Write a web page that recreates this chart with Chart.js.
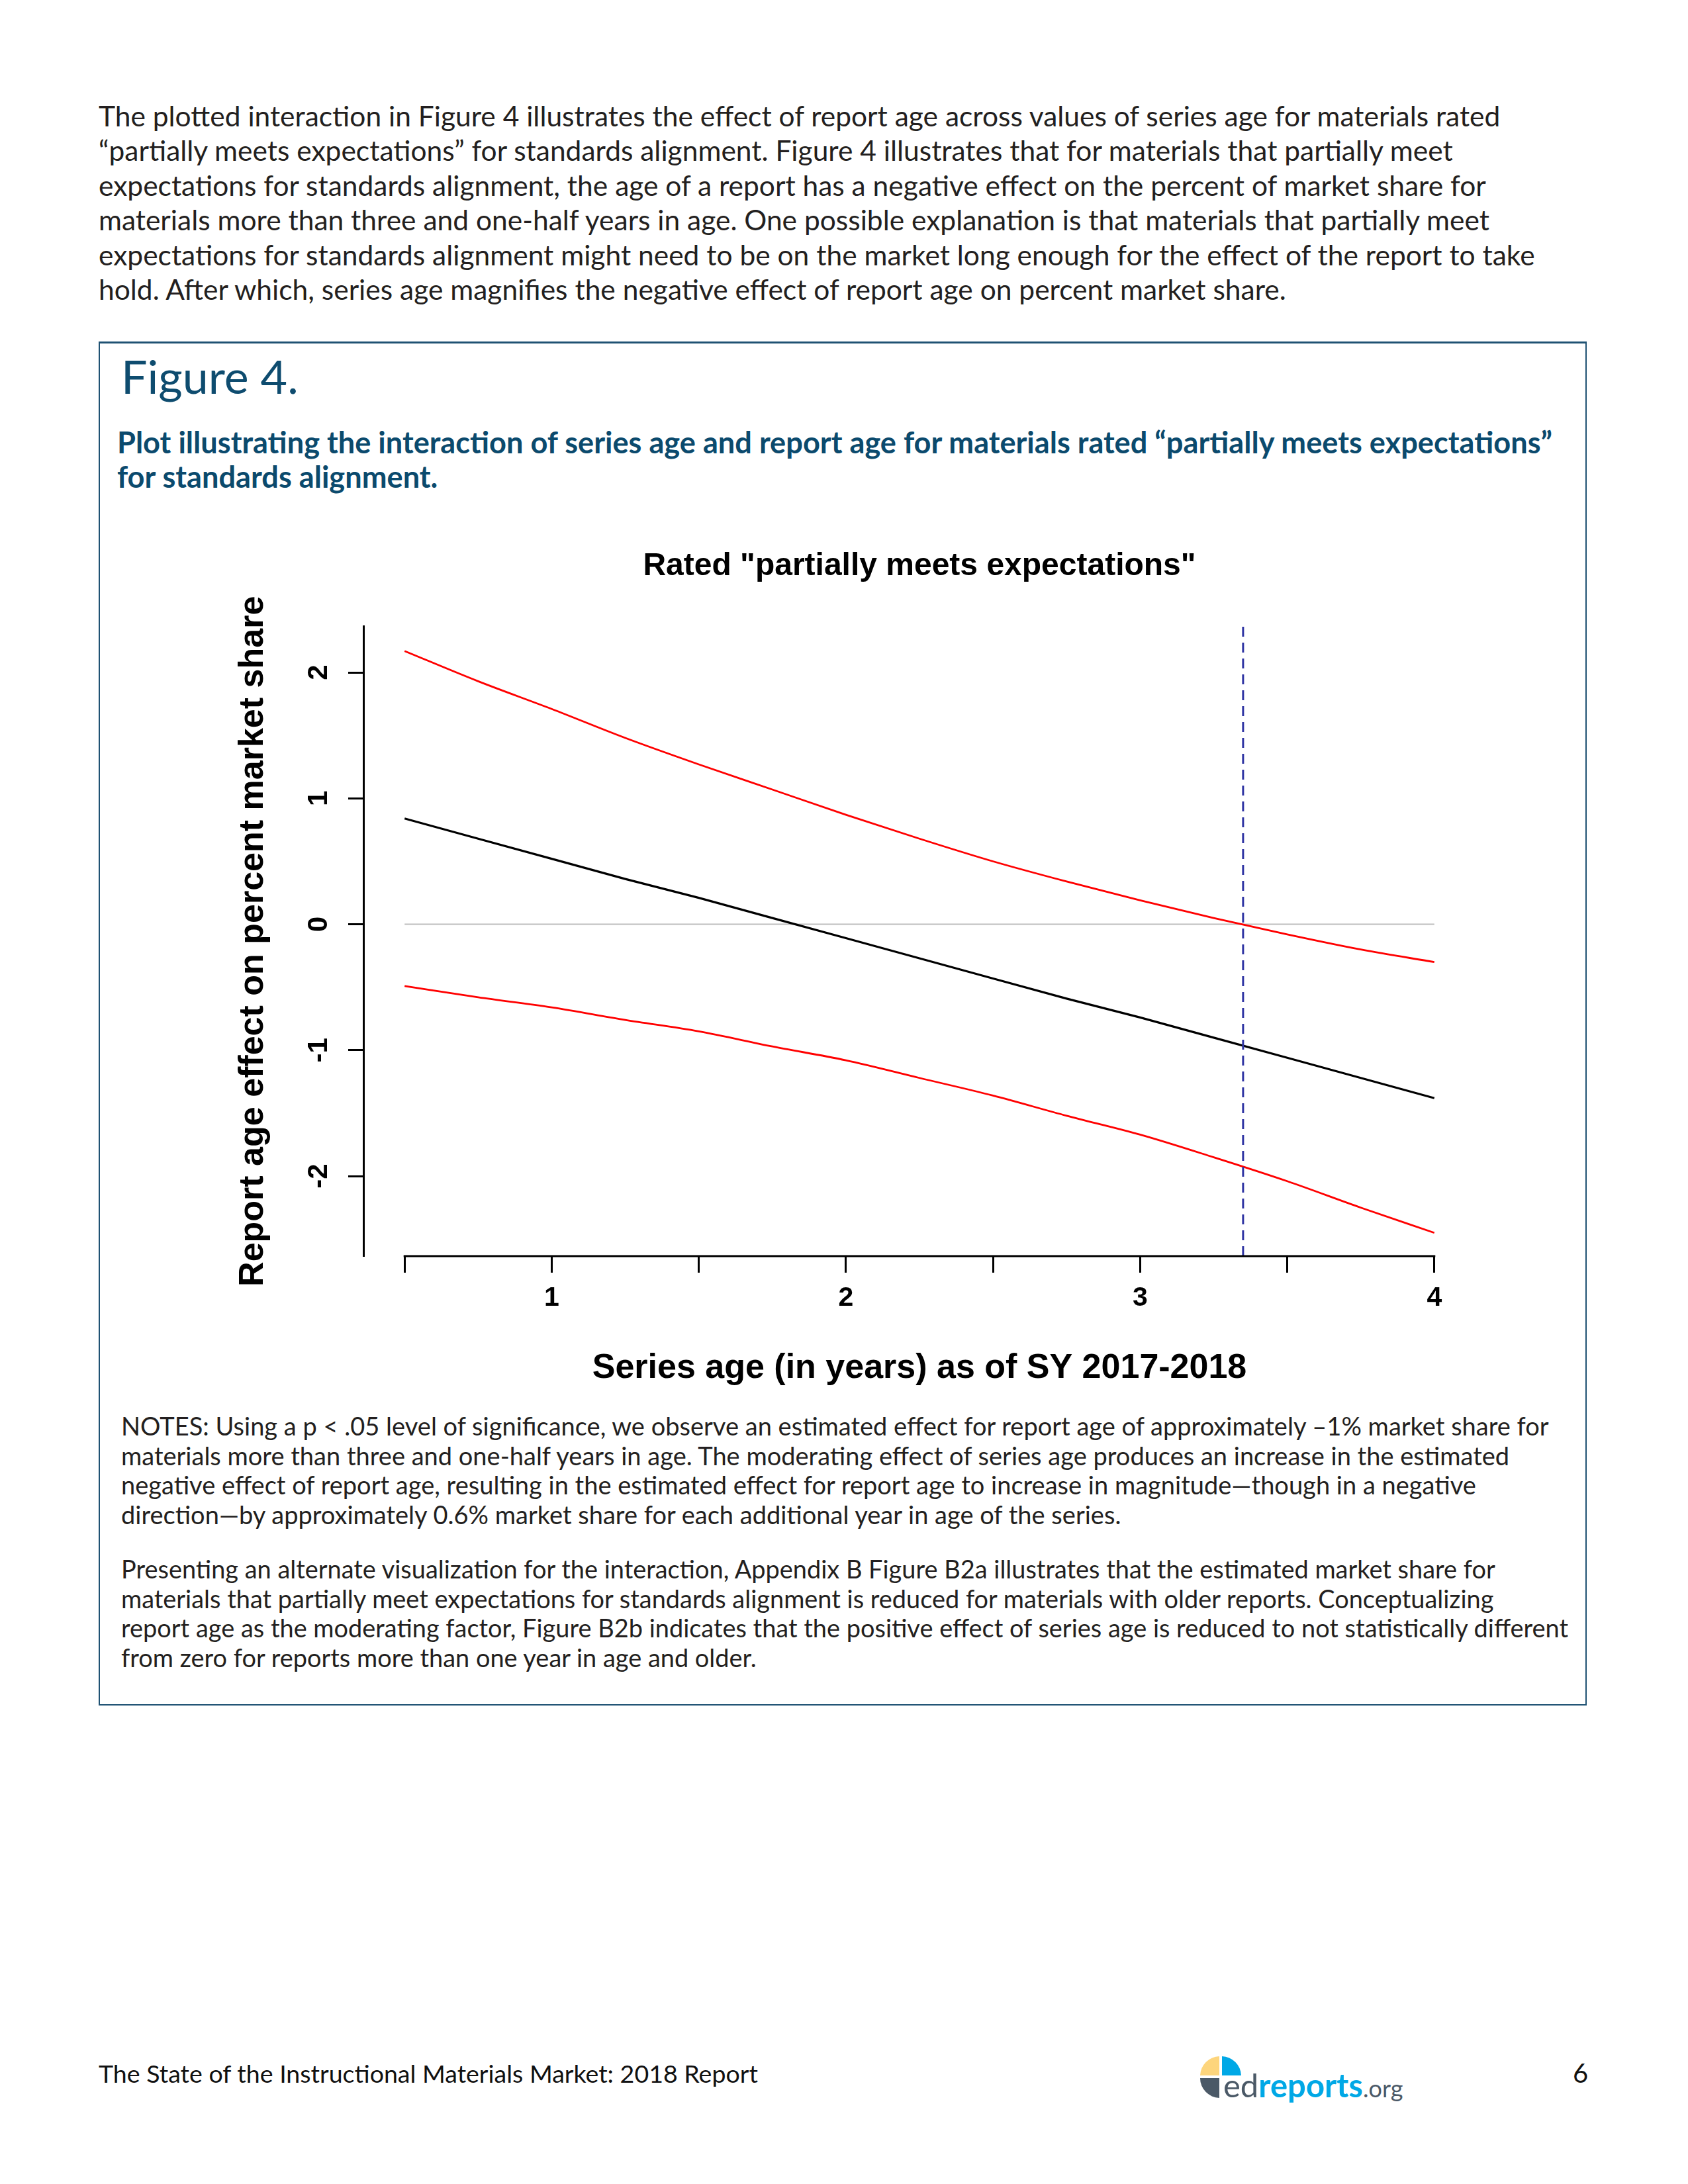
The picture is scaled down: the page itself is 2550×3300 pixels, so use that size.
<!DOCTYPE html>
<html>
<head>
<meta charset="utf-8">
<title>Figure 4</title>
<script src="https://cdn.jsdelivr.net/npm/chart.js@4.4.0/dist/chart.umd.min.js"></script>
<style>
  html, body { margin: 0; padding: 0; background: #fff; }
  body { width: 2550px; height: 3300px; position: relative; overflow: hidden;
         font-family: Lato, "Open Sans", sans-serif; color: #231f20; }
  .block { position: absolute; white-space: nowrap; }
  .block .ln { width: max-content; }
  #intro { left: 149px; top: 149px; font-size: 38px; line-height: 52.4px; }
  #box { position: absolute; left: 149px; top: 516px; width: 2244px; height: 2056px;
         border: 2px solid #1f5273; border-top-width: 3px; }
  #figTitle { left: 183px; top: 526px; font-size: 70px; line-height: 84px; color: #0e4c6f; font-weight: 400; }
  #subtitle { left: 177px; top: 642px; font-size: 40px; line-height: 52px; color: #0b4a6d; font-weight: 700; }
  #notes1 { left: 183px; top: 2132px; font-size: 36px; line-height: 44.7px; }
  #notes2 { left: 183px; top: 2349px; font-size: 36px; line-height: 44.5px; }
  #footer { left: 149px; top: 3110px; font-size: 38px; line-height: 46px; color: #111; }
  #pageNum { left: 2376px; top: 3108px; font-size: 40px; line-height: 48px; color: #111; }
  #chart { position: absolute; left: 300px; top: 760px; width: 2000px; height: 1360px; }
  #logo { position: absolute; left: 1800px; top: 3095px; }
</style>
</head>
<body>

<div id="intro" class="block">
  <div class="ln">The plotted interaction in Figure 4 illustrates the effect of report age across values of series age for materials rated</div>
  <div class="ln">“partially meets expectations” for standards alignment. Figure 4 illustrates that for materials that partially meet</div>
  <div class="ln">expectations for standards alignment, the age of a report has a negative effect on the percent of market share for</div>
  <div class="ln">materials more than three and one-half years in age. One possible explanation is that materials that partially meet</div>
  <div class="ln">expectations for standards alignment might need to be on the market long enough for the effect of the report to take</div>
  <div class="ln">hold. After which, series age magnifies the negative effect of report age on percent market share.</div>
</div>

<div id="box"></div>
<div id="figTitle" class="block"><div class="ln">Figure 4.</div></div>
<div id="subtitle" class="block">
  <div class="ln">Plot illustrating the interaction of series age and report age for materials rated “partially meets expectations”</div>
  <div class="ln">for standards alignment.</div>
</div>

<canvas id="chart" width="2000" height="1360"></canvas>

<div id="notes1" class="block">
  <div class="ln">NOTES: Using a p &lt; .05 level of significance, we observe an estimated effect for report age of approximately –1% market share for</div>
  <div class="ln">materials more than three and one-half years in age. The moderating effect of series age produces an increase in the estimated</div>
  <div class="ln">negative effect of report age, resulting in the estimated effect for report age to increase in magnitude—though in a negative</div>
  <div class="ln">direction—by approximately 0.6% market share for each additional year in age of the series.</div>
</div>
<div id="notes2" class="block">
  <div class="ln">Presenting an alternate visualization for the interaction, Appendix B Figure B2a illustrates that the estimated market share for</div>
  <div class="ln">materials that partially meet expectations for standards alignment is reduced for materials with older reports. Conceptualizing</div>
  <div class="ln">report age as the moderating factor, Figure B2b indicates that the positive effect of series age is reduced to not statistically different</div>
  <div class="ln">from zero for reports more than one year in age and older.</div>
</div>

<div id="footer" class="block"><div class="ln">The State of the Instructional Materials Market: 2018 Report</div></div>
<div id="pageNum" class="block"><div class="ln">6</div></div>

<svg id="logo" width="340" height="100" viewBox="0 0 340 100">
  <path d="M42 41 L42 12 A30 30 0 0 0 13 41 Z" fill="#fdd57c"/>
  <path d="M46 41 L46 12 A30 30 0 0 1 75 41 Z" fill="#00a8e6"/>
  <path d="M42 45 L42 75 A30 30 0 0 1 13 45 Z" fill="#4b5967"/>
  <text x="48" y="74" font-family="Lato, sans-serif" font-size="49" fill="#4b5967">ed<tspan fill="#00a8e6" font-weight="700">reports</tspan><tspan font-size="36">.org</tspan></text>
</svg>

<script>
// values
const seriesAge = [0.5, 0.75, 1, 1.25, 1.5, 1.75, 2, 2.25, 2.5, 2.75, 3, 3.25, 3.5, 3.75, 4];
const effectEstimate = [0.84, 0.68, 0.52, 0.36, 0.21, 0.05, -0.11, -0.27, -0.43, -0.59, -0.74, -0.90, -1.06, -1.22, -1.38];
const upperBound = [2.17, 1.93, 1.71, 1.48, 1.27, 1.07, 0.87, 0.68, 0.50, 0.34, 0.19, 0.05, -0.08, -0.20, -0.30];
const lowerBound = [-0.49, -0.58, -0.66, -0.76, -0.85, -0.97, -1.08, -1.22, -1.36, -1.52, -1.67, -1.85, -2.04, -2.25, -2.45];
const xTicks = [0.5, 1, 1.5, 2, 2.5, 3, 3.5, 4];
const xTickLabels = ["", "1", "", "2", "", "3", "", "4"];
const yTicks = [-2, -1, 0, 1, 2];
const yTickLabels = ["-2", "-1", "0", "1", "2"];
const zeroLine = 0;
const cutoffAge = 3.35;   // where the upper bound crosses zero

const xRange = [0.36, 4.14];
const yRange = [-2.635, 2.365];

// stretch each text block so its measured line matches the page
function fitBlock(id, lineIdx, target) {
  const el = document.getElementById(id);
  const ln = el.querySelectorAll(".ln")[lineIdx];
  const w = ln.getBoundingClientRect().width;
  const fs = parseFloat(getComputedStyle(el).fontSize);
  el.style.fontSize = (fs * target / w).toFixed(2) + "px";
}
fitBlock("intro", 0, 2118);
fitBlock("subtitle", 0, 2168);
fitBlock("notes1", 0, 2157);
fitBlock("notes2", 2, 2187);
fitBlock("footer", 0, 996);

const pts = arr => seriesAge.map((x, i) => ({ x: x, y: arr[i] }));
const FONT = "'Liberation Sans', Arial, sans-serif";

// R-style axis pieces: short x axis line and upright y labels
const rAxes = {
  id: "rAxes",
  afterDraw(chart) {
    const { ctx, chartArea, scales } = chart;
    const x = scales.x, y = scales.y;
    ctx.save();
    ctx.strokeStyle = "#000";
    ctx.lineWidth = 3;
    ctx.beginPath();
    ctx.moveTo(x.getPixelForValue(xTicks[0]) - 1.5, chartArea.bottom);
    ctx.lineTo(x.getPixelForValue(xTicks[xTicks.length - 1]) + 1.5, chartArea.bottom);
    ctx.stroke();

    ctx.fillStyle = "#000";
    ctx.font = "bold 42px " + FONT;
    ctx.textAlign = "center";
    ctx.textBaseline = "middle";
    y.ticks.forEach(t => {
      ctx.save();
      ctx.translate(182, y.getPixelForValue(t.value));
      ctx.rotate(-Math.PI / 2);
      ctx.fillText(t.label, 0, 0);
      ctx.restore();
    });
    ctx.restore();
  }
};

new Chart(document.getElementById("chart"), {
  type: "scatter",
  data: {
    datasets: [
      {
        label: "cutoff",
        data: [{ x: cutoffAge, y: yRange[0] }, { x: cutoffAge, y: yRange[1] }],
        borderColor: "#3035a3",
        borderWidth: 3,
        borderDash: [15, 9]
      },
      {
        label: "Estimate",
        data: pts(effectEstimate),
        borderColor: "#000000",
        borderWidth: 3.2
      },
      {
        label: "Upper",
        data: pts(upperBound),
        borderColor: "#ff0000",
        borderWidth: 2.8,
        cubicInterpolationMode: "monotone"
      },
      {
        label: "Lower",
        data: pts(lowerBound),
        borderColor: "#ff0000",
        borderWidth: 2.8,
        cubicInterpolationMode: "monotone"
      },
      {
        label: "zero",
        data: [{ x: seriesAge[0], y: zeroLine }, { x: seriesAge[seriesAge.length - 1], y: zeroLine }],
        borderColor: "#bdbdbd",
        borderWidth: 2
      }
    ].map(d => Object.assign({ showLine: true, pointRadius: 0, fill: false }, d))
  },
  options: {
    responsive: false,
    devicePixelRatio: 1,
    animation: false,
    layout: { padding: { left: 0, right: 71, top: 0, bottom: 0 } },
    plugins: {
      legend: { display: false },
      tooltip: { enabled: false },
      title: {
        display: true,
        fullSize: false,
        text: 'Rated "partially meets expectations"',
        color: "#000",
        font: { family: FONT, size: 48, weight: "bold" },
        padding: { top: 67, bottom: 62 }
      }
    },
    scales: {
      x: {
        type: "linear",
        min: xRange[0],
        max: xRange[1],
        afterBuildTicks: s => { s.ticks = xTicks.map(v => ({ value: v })); },
        afterFit: s => { s.height = 222; },
        border: { display: false },
        grid: { drawOnChartArea: false, drawTicks: true, tickLength: 25, tickWidth: 3, tickColor: "#000" },
        ticks: {
          autoSkip: false, maxRotation: 0, padding: 14, color: "#000",
          font: { family: FONT, size: 41, weight: "bold" },
          callback: (v, i) => xTickLabels[i]
        },
        title: {
          display: true,
          text: "Series age (in years) as of SY 2017-2018",
          color: "#000",
          font: { family: FONT, size: 52, weight: "bold" },
          padding: { top: 0, bottom: 21 }
        }
      },
      y: {
        type: "linear",
        min: yRange[0],
        max: yRange[1],
        afterBuildTicks: s => { s.ticks = yTicks.map(v => ({ value: v })); },
        afterFit: s => { s.width = 249; },
        border: { display: true, width: 3, color: "#000" },
        grid: { drawOnChartArea: false, drawTicks: true, tickLength: 23, tickWidth: 3, tickColor: "#000" },
        ticks: { display: false, callback: (v, i) => yTickLabels[i] },
        title: {
          display: true,
          text: "Report age effect on percent market share",
          color: "#000",
          font: { family: FONT, size: 52, weight: "bold" },
          padding: { top: 51, bottom: 0 }
        }
      }
    }
  },
  plugins: [rAxes]
});
</script>
</body>
</html>
